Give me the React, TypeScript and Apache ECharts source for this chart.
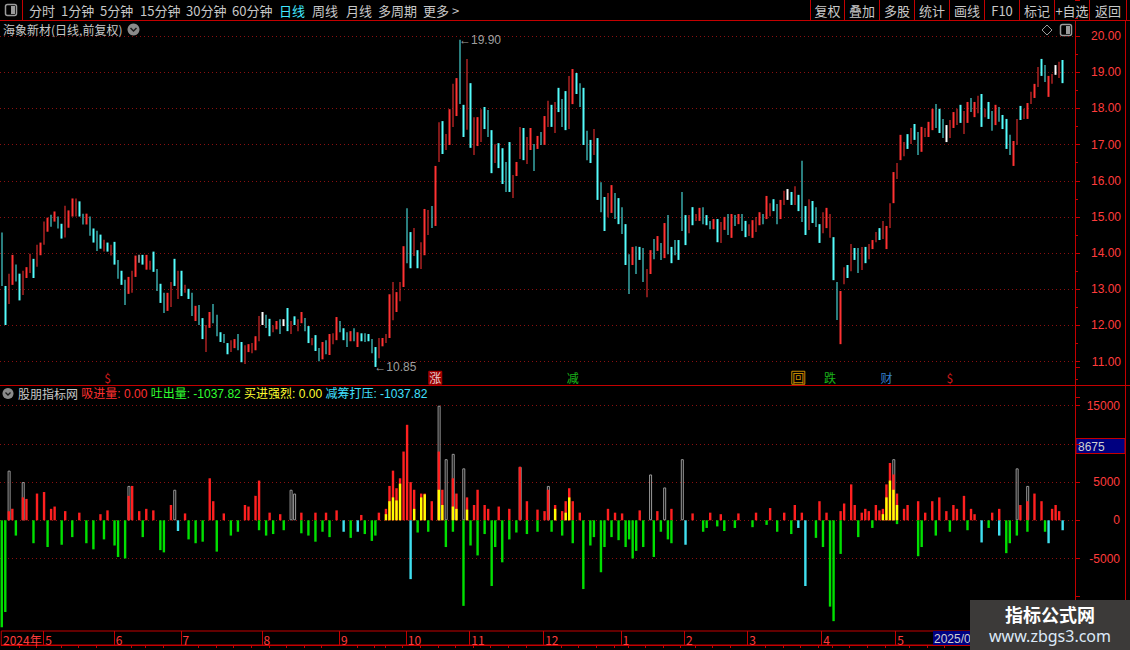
import React, { useEffect, useRef } from "react";
import * as echarts from "echarts";

// Daily bars from 2024-04-15 to 2025-07-11 (302 sessions); 3 empty slots at the right edge
const highs = [
  14.57, 13.09, 13.43, 13.95, 13.68, 13.43, 13.51, 13.61, 13.98, 13.84,
  14.23, 14.29, 14.87, 14.98, 15.06, 15.15, 15.01, 14.81, 15.31, 15.18,
  15.51, 15.51, 15.43, 15.09, 15.09, 15.01, 14.68, 14.62, 14.51, 14.37,
  14.29, 14.23, 14.31, 13.81, 13.51, 13.26, 13.34, 13.51, 13.93, 13.95,
  13.95, 13.95, 13.79, 14.04, 13.56, 13.15, 12.9, 12.9, 13.2, 13.84,
  13.51, 13.51, 13.12, 13.01, 12.9, 12.54, 12.56, 12.2, 12.01, 12.37,
  12.59, 12.29, 11.81, 11.76, 11.51, 11.59, 11.62, 11.76, 11.54, 11.45,
  11.48, 11.51, 11.7, 12.26, 12.37, 12.29, 12.18, 12.0, 12.12, 12.17,
  12.17, 12.48, 12.12, 12.25, 12.17, 12.37, 12.2, 11.98, 11.65, 11.73,
  11.37, 11.54, 11.59, 11.76, 11.78, 12.23, 12.12, 11.92, 11.81, 11.84,
  11.92, 11.81, 11.78, 11.78, 11.76, 11.62, 11.4, 11.65, 11.65, 11.76,
  12.86, 13.2, 12.92, 13.2, 14.19, 15.24, 14.58, 14.69, 14.08, 14.3,
  15.22, 15.19, 15.3, 16.41, 17.62, 17.65, 17.29, 17.98, 18.68, 18.84,
  19.9, 18.1, 19.37, 18.7, 17.76, 17.76, 17.98, 18.04, 17.96, 17.4,
  17.01, 17.04, 16.9, 16.52, 17.07, 16.16, 16.52, 17.49, 17.46, 17.21,
  17.46, 17.02, 17.24, 17.35, 17.79, 18.21, 18.1, 18.18, 18.57, 18.26,
  18.48, 18.9, 19.09, 18.98, 18.7, 18.57, 17.38, 17.13, 17.43, 17.18,
  15.96, 15.55, 15.66, 15.88, 15.66, 15.52, 15.27, 14.8, 13.97, 14.17,
  14.19, 14.17, 14.14, 13.56, 14.08, 14.39, 14.47, 14.28, 14.83, 15.05,
  14.17, 14.36, 14.36, 15.69, 15.05, 15.05, 15.27, 15.08, 15.25, 15.27,
  15.05, 14.89, 14.94, 14.94, 14.86, 15.0, 15.08, 15.08, 15.05, 15.08,
  15.08, 14.89, 14.8, 14.91, 15.0, 15.13, 15.08, 15.58, 15.38, 15.49,
  15.36, 15.47, 15.72, 15.77, 15.69, 15.85, 15.61, 16.55, 15.3, 15.49,
  15.44, 15.27, 14.8, 15.13, 15.25, 15.08, 14.44, 13.2, 12.95, 13.61,
  13.67, 14.25, 14.14, 14.14, 14.17, 14.17, 14.25, 14.36, 14.58, 14.69,
  14.89, 14.75, 15.38, 16.24, 16.49, 17.27, 17.07, 17.29, 17.46, 17.57,
  17.35, 17.49, 17.46, 17.63, 17.99, 18.12, 17.99, 17.71, 17.54, 17.68,
  17.9, 17.99, 18.1, 17.93, 18.18, 18.29, 18.18, 18.35, 18.4, 17.99,
  18.18, 17.93, 18.1, 18.04, 17.82, 17.71, 17.27, 17.1, 17.71, 18.07,
  17.99, 18.15, 18.46, 18.68, 19.15, 19.37, 19.2, 18.9, 18.95, 19.2,
  19.29, 19.34,
];

const lows = [
  13.09, 12.01, 12.59, 13.12, 13.21, 12.69, 12.84, 13.31, 13.45, 13.31,
  13.62, 13.94, 14.23, 14.59, 14.73, 14.87, 14.68, 14.4, 14.43, 14.7,
  15.01, 15.01, 15.01, 14.79, 14.79, 14.48, 14.29, 14.06, 14.12, 14.04,
  14.04, 13.93, 13.68, 13.29, 13.12, 12.56, 12.87, 12.9, 13.34, 13.73,
  13.68, 13.54, 13.54, 13.48, 12.95, 12.62, 12.34, 12.4, 12.51, 13.09,
  12.73, 12.81, 12.9, 12.73, 12.26, 12.12, 12.01, 11.62, 11.26, 11.93,
  12.06, 11.7, 11.54, 11.51, 11.2, 11.26, 11.37, 11.31, 10.98, 10.93,
  11.26, 11.23, 11.31, 11.56, 12.01, 11.93, 11.7, 11.81, 11.89, 11.76,
  11.98, 11.84, 11.76, 12.01, 11.84, 12.06, 11.84, 11.51, 11.45, 11.29,
  11.01, 11.06, 11.2, 11.18, 11.48, 11.59, 11.81, 11.59, 11.4, 11.56,
  11.56, 11.4, 11.56, 11.54, 11.56, 11.23, 10.85, 11.09, 11.42, 11.51,
  11.65, 12.14, 12.37, 12.67, 13.06, 13.72, 13.58, 13.92, 13.58, 13.56,
  13.94, 14.5, 14.69, 14.75, 16.52, 16.74, 16.85, 16.99, 17.49, 17.79,
  18.12, 17.21, 17.41, 16.91, 16.71, 16.96, 17.07, 17.43, 17.21, 16.21,
  16.49, 16.35, 15.91, 15.69, 15.69, 15.52, 16.13, 16.6, 16.57, 16.46,
  16.85, 16.27, 16.88, 16.99, 16.99, 17.49, 17.49, 17.32, 17.9, 17.49,
  17.4, 17.43, 18.12, 18.4, 18.04, 16.99, 16.57, 16.49, 16.71, 15.47,
  15.13, 14.61, 14.99, 15.11, 14.94, 14.8, 14.53, 13.67, 12.87, 13.67,
  13.42, 13.81, 13.2, 12.78, 13.42, 13.83, 14.06, 13.81, 13.86, 13.97,
  13.72, 13.94, 13.81, 14.61, 14.22, 14.55, 14.77, 14.89, 14.89, 14.8,
  14.77, 14.66, 14.66, 14.3, 14.28, 14.64, 14.5, 14.42, 14.75, 14.8,
  14.61, 14.44, 14.47, 14.42, 14.58, 14.77, 14.8, 14.94, 15.02, 15.16,
  14.8, 14.94, 15.33, 15.47, 15.33, 15.33, 15.16, 14.86, 14.5, 14.64,
  14.83, 14.72, 14.28, 14.55, 14.69, 14.42, 13.25, 12.15, 11.48, 13.14,
  13.31, 13.5, 13.81, 13.45, 13.53, 13.72, 13.83, 14.11, 14.3, 14.36,
  14.39, 14.11, 14.69, 15.38, 16.05, 16.57, 16.68, 16.88, 17.02, 17.13,
  16.71, 16.8, 17.21, 17.21, 17.4, 17.46, 17.32, 17.18, 17.07, 17.18,
  17.46, 17.54, 17.6, 17.29, 17.6, 17.9, 17.76, 17.87, 17.49, 17.76,
  17.71, 17.38, 17.54, 17.63, 17.43, 16.88, 16.71, 16.41, 16.99, 17.68,
  17.71, 17.71, 18.12, 18.29, 18.59, 18.9, 18.73, 18.32, 18.68, 18.93,
  18.84, 18.7,
];

// 1 = closed up (red), -1 = closed down (cyan), 0 = unchanged (white)
const moves = [
  -1, -1, 1, 1, -1, -1, 1, 1, 1, -1,
  1, 1, 1, 1, -1, 1, -1, -1, 1, 1,
  1, 1, -1, -1, 1, -1, -1, -1, -1, 1,
  -1, 1, -1, -1, -1, -1, 1, 1, 1, 0,
  -1, 1, 1, -1, -1, -1, -1, 1, 1, -1,
  1, -1, 1, -1, -1, 1, -1, -1, 1, 1,
  -1, -1, -1, -1, -1, 1, 1, -1, -1, 1,
  1, 1, 1, 1, 0, -1, -1, 1, 1, -1,
  0, -1, 1, -1, 1, 1, -1, -1, 1, -1,
  -1, 1, -1, 1, 1, 1, -1, -1, -1, 1,
  -1, 1, -1, -1, -1, -1, -1, 1, 1, 1,
  1, 1, 1, 1, 1, -1, -1, 1, -1, 1,
  1, 1, -1, 1, 1, -1, 1, 1, 1, 1,
  -1, -1, 1, -1, 1, 1, 1, -1, -1, -1,
  1, -1, -1, -1, -1, 1, 1, 1, -1, 1,
  1, -1, 1, -1, 1, 1, -1, 1, -1, -1,
  -1, 1, 1, -1, -1, -1, -1, -1, 1, -1,
  -1, -1, 1, 1, -1, -1, -1, -1, -1, 1,
  -1, -1, -1, 1, 1, -1, 1, -1, 1, -1,
  -1, -1, -1, -1, -1, 1, -1, 1, 1, -1,
  -1, -1, 1, -1, 1, 1, -1, 1, -1, 1,
  -1, -1, 1, 1, 1, 1, -1, 1, 1, -1,
  -1, 1, 1, 0, -1, 1, -1, -1, -1, 1,
  -1, -1, -1, 1, 1, 1, -1, -1, 1, 1,
  -1, 1, -1, -1, 1, -1, 1, 1, 1, -1,
  1, 1, 1, 1, 1, 1, 1, -1, 1, -1,
  -1, 1, 1, 1, 1, -1, -1, -1, 0, 1,
  1, 1, -1, 1, 1, -1, 1, 1, -1, 1,
  -1, -1, 1, -1, -1, -1, -1, 1, 1, -1,
  1, 1, 1, 1, 1, -1, -1, 1, 1, 0,
  1, -1,
];

// Trading calendar: weekdays from the first session minus exchange holidays
const FIRST_DAY = "2024-04-15";
const SLOT_COUNT = 305;
const holidays = [
  "2024-05-01", "2024-05-02", "2024-05-03", "2024-06-10", "2024-09-16", "2024-09-17",
  "2024-10-01", "2024-10-02", "2024-10-03", "2024-10-04", "2024-10-07",
  "2025-01-01", "2025-01-28", "2025-01-29", "2025-01-30", "2025-01-31", "2025-02-03", "2025-02-04",
  "2025-04-04", "2025-05-01", "2025-05-02", "2025-05-05", "2025-06-02",
];
// Month labels stop where the cursor date box begins
const LAST_LABELED_SESSION = 269;
const CURSOR_DATE_TEXT = "2025/0";

// Indicator columns as [session index, value] pairs
const absorbVol = [
  [2, 1200], [3, 1500], [6, 3000], [7, 2800], [10, 3500], [12, 3700], [14, 1500], [15, 1800], [18, 1200],
  [22, 1000], [28, 800], [30, 1300], [36, 3200], [37, 4500], [39, 1200], [41, 1500], [43, 1300], [48, 2000],
  [52, 900], [59, 5500], [60, 2500], [63, 900], [69, 2000], [70, 1800], [72, 3200], [73, 5200], [76, 1000],
  [79, 800], [85, 1000], [89, 1000], [92, 1000], [95, 1300], [102, 700], [107, 1000], [109, 1500], [110, 4500],
  [111, 6500], [112, 4200], [113, 5500], [114, 9000], [115, 12500], [116, 5000], [117, 4000], [119, 3500],
  [120, 3500], [122, 2500], [124, 9000], [125, 4000], [128, 5500], [129, 3500], [132, 3000], [134, 2000],
  [135, 4000], [137, 2000], [138, 1500], [141, 1800], [144, 1500], [147, 7000], [149, 2500], [152, 1400],
  [154, 1200], [155, 4000], [157, 2000], [159, 1200], [160, 2500], [161, 4200], [162, 2500], [164, 1000],
  [172, 1500], [174, 1000], [176, 900], [181, 1300], [186, 1200], [190, 1500], [196, 900], [201, 1000],
  [204, 800], [209, 900], [214, 1000], [218, 1600], [222, 1000], [225, 2000], [227, 1000], [232, 2500],
  [234, 1000], [238, 1200], [239, 2200], [241, 4700], [242, 2000], [244, 1000], [245, 1500], [246, 1200],
  [248, 2000], [249, 1300], [250, 1500], [251, 4700], [252, 7500], [253, 6000], [254, 3500], [256, 1500],
  [257, 2000], [260, 2500], [262, 1000], [264, 2500], [266, 3000], [268, 1200], [270, 2000], [271, 1500],
  [273, 3200], [275, 1500], [276, 800], [281, 1000], [283, 1500], [289, 2000], [291, 2500], [293, 3500],
  [295, 2500], [298, 1500], [299, 2000], [300, 1200],
];
const strongBuy = [
  [109, 800], [110, 2500], [111, 3000], [112, 2600], [113, 4800], [117, 1500], [119, 3000], [120, 3400],
  [124, 4000], [125, 2000], [128, 1800], [129, 1500], [132, 1400], [157, 1500], [160, 1000], [161, 3000],
  [250, 800], [251, 3000], [252, 5200], [253, 4000], [254, 2000],
];
const turnoverOutline = [
  [2, 6500], [6, 5000], [36, 4500], [49, 4000], [82, 4000], [83, 3500], [124, 15000], [126, 8000],
  [128, 8700], [131, 6800], [147, 7000], [155, 4500], [184, 6000], [188, 4300], [193, 8000], [253, 8000],
  [288, 6800], [291, 4500],
];
const releaseVol = [
  [0, -14000], [1, -12000], [4, -2000], [9, -3000], [13, -3500], [17, -3200], [20, -2200], [24, -3000],
  [26, -3800], [29, -2500], [32, -3300], [33, -4800], [35, -5000], [40, -2200], [45, -3900], [46, -4200],
  [53, -2500], [55, -3000], [57, -2800], [61, -4100], [65, -2000], [67, -1500], [73, -1300], [75, -2000],
  [77, -1800], [80, -1300], [85, -1700], [87, -2000], [89, -2800], [91, -1500], [93, -2200], [99, -2300],
  [103, -1800], [105, -2700], [106, -2000], [118, -1600], [121, -1500], [126, -3500], [128, -1500],
  [131, -11200], [133, -3300], [135, -4600], [137, -1800], [139, -8600], [140, -3500], [142, -5500],
  [144, -2500], [146, -1600], [149, -1800], [152, -1500], [156, -1500], [159, -2000], [162, -3000],
  [165, -9000], [167, -3300], [168, -2200], [170, -6800], [171, -3500], [173, -2200], [175, -2600],
  [177, -3500], [178, -2500], [179, -5000], [180, -4000], [182, -3500], [185, -4800], [187, -1500],
  [189, -2500], [190, -3000], [199, -1500], [200, -1000], [203, -800], [205, -1400], [208, -1000],
  [213, -900], [217, -600], [220, -1500], [224, -1800], [231, -2300], [233, -3500], [235, -11300],
  [236, -13200], [238, -4400], [243, -2200], [247, -1000], [254, -500], [260, -4700], [261, -3500],
  [265, -2000], [269, -1500], [274, -1300], [280, -1000], [285, -4300], [286, -3000], [288, -2000],
  [291, -1500], [296, -1500],
];
const pressDown = [
  [50, -1400], [97, -1500], [101, -1500], [116, -7700], [194, -3200], [226, -1000], [228, -8600],
  [278, -2900], [283, -2000], [297, -3000], [301, -1300],
];

// Signal tags under the price panel
const signalIdx = [30, 123, 162, 226, 235, 251, 269];
const signalText = ["$", "涨", "减", "回", "跌", "财", "$"];
const signalKind = ["dollar", "rise", "cut", "back", "fall", "cash", "dollar"];

const UP = "#ff3232";
const DOWN = "#54fcfc";
const LINE_RED = "#c40000";
const AXIS_TEXT = "#ff3c3c";
const GRID_DOT = "#8a1010";
const UI_TEXT = "#c8c8c8";
const NUM_FONT = '"Liberation Sans", "Noto Sans CJK SC", sans-serif';
const CJK_FONT = '"Noto Sans CJK SC", "Liberation Sans", sans-serif';

const toolbarLeft = ["分时", "1分钟", "5分钟", "15分钟", "30分钟", "60分钟", "日线", "周线", "月线", "多周期", "更多 >"];
const toolbarLeftX = [29, 61, 100, 140, 186, 232, 279, 312, 346, 378, 423];
const toolbarRight = ["复权", "叠加", "多股", "统计", "画线", "F10", "标记", "+自选", "返回"];
const toolbarRightSep = [810, 844, 879, 914, 949, 984, 1019, 1054, 1089, 1126];

function buildSessions(): Date[] {
  const out: Date[] = [];
  const off = new Set(holidays);
  const d = new Date(FIRST_DAY + "T00:00:00Z");
  while (out.length < SLOT_COUNT) {
    const key = d.toISOString().slice(0, 10);
    const wd = d.getUTCDay();
    if (wd !== 0 && wd !== 6 && !off.has(key)) out.push(new Date(d.getTime()));
    d.setUTCDate(d.getUTCDate() + 1);
  }
  return out;
}

function expand(pairs: number[][]): (number | string)[] {
  const arr: (number | string)[] = Array.from({ length: SLOT_COUNT }, () => "-");
  pairs.forEach(([i, v]) => (arr[i] = v));
  return arr;
}

function buildOption() {
  const sessions = buildSessions();
  const categories = sessions.map((d) => d.toISOString().slice(0, 10));
  const isMonthStart = (i: number) => i > 0 && sessions[i].getUTCMonth() !== sessions[i - 1].getUTCMonth();
  const isWeekStart = (i: number) =>
    i > 0 && (sessions[i].getUTCDay() < sessions[i - 1].getUTCDay() ||
      sessions[i].getTime() - sessions[i - 1].getTime() > 6 * 86400000);
  const monthLabel = (i: number) =>
    i === 0 ? `${sessions[0].getUTCFullYear()}年` : String(sessions[i].getUTCMonth() + 1);

  const candleData = highs.map((h, i) => {
    const l = lows[i];
    const m = moves[i];
    const value = m >= 0 ? [l, h, l, h] : [h, l, l, h];
    if (m === 0) {
      return { value, itemStyle: { color: "#ffffff", borderColor: "#ffffff" } };
    }
    return value;
  });

  const signalStyle: Record<string, any> = {
    dollar: { color: "transparent", text: "#ff2020", border: "transparent" },
    rise: { color: "#c00000", text: "#ffffff", border: "#c00000" },
    cut: { color: "transparent", text: "#20e020", border: "transparent" },
    back: { color: "#000000", text: "#ffb000", border: "#ffb000" },
    fall: { color: "transparent", text: "#20e020", border: "transparent" },
    cash: { color: "transparent", text: "#40a0ff", border: "transparent" },
  };
  const signalData = signalIdx.map((idx, k) => {
    const s = signalStyle[signalKind[k]];
    return {
      value: [idx, 10.55],
      itemStyle: { color: s.color, borderColor: s.border, borderWidth: 1 },
      label: {
        show: true,
        position: "inside",
        formatter: signalText[k],
        color: s.text,
        fontSize: 12,
        fontFamily: CJK_FONT,
      },
    };
  });

  const priceSplitColors = Array.from({ length: 12 }, (_, i) =>
    i === 0 || i === 11 ? "rgba(0,0,0,0)" : GRID_DOT
  );
  const volSplitColors = [
    "rgba(0,0,0,0)", "rgba(0,0,0,0)", GRID_DOT, GRID_DOT, GRID_DOT, GRID_DOT, GRID_DOT, "rgba(0,0,0,0)",
  ];

  const hiddenX = (gridIndex: number) => ({
    type: "category",
    gridIndex,
    data: categories,
    boundaryGap: true,
    axisLine: { show: false },
    axisTick: { show: false },
    axisLabel: { show: false },
    splitLine: { show: false },
  });

  const graphic: any[] = [];
  // top toolbar
  graphic.push({ type: "line", shape: { x1: 0, y1: 20.5, x2: 1130, y2: 20.5 }, style: { stroke: LINE_RED, lineWidth: 1 } });
  graphic.push({ type: "line", shape: { x1: 22.5, y1: 0, x2: 22.5, y2: 20 }, style: { stroke: LINE_RED, lineWidth: 1 } });
  graphic.push({ type: "rect", shape: { x: 5.5, y: 4.5, width: 11, height: 11, r: 2 }, style: { fill: "none", stroke: "#9a9a9a", lineWidth: 1.5 } });
  graphic.push({ type: "rect", shape: { x: 11, y: 6, width: 4, height: 8 }, style: { fill: "#9a9a9a" } });
  toolbarLeft.forEach((t, i) => {
    graphic.push({
      type: "text", x: toolbarLeftX[i], y: 10,
      style: { text: t, fill: i === 6 ? "#40e8ff" : UI_TEXT, font: `13px ${CJK_FONT}`, verticalAlign: "middle" },
    });
  });
  toolbarRightSep.forEach((x) => {
    graphic.push({ type: "line", shape: { x1: x + 0.5, y1: 0, x2: x + 0.5, y2: 20 }, style: { stroke: LINE_RED, lineWidth: 1 } });
  });
  toolbarRight.forEach((t, i) => {
    graphic.push({
      type: "text", x: (toolbarRightSep[i] + toolbarRightSep[i + 1]) / 2 + 0.5, y: 10,
      style: { text: t, fill: UI_TEXT, font: `13px ${CJK_FONT}`, align: "center", verticalAlign: "middle" },
    });
  });

  // stock title row
  graphic.push({
    type: "text", x: 3, y: 29,
    style: { text: "海象新材(日线,前复权)", fill: UI_TEXT, font: `12px ${CJK_FONT}`, verticalAlign: "middle" },
  });
  graphic.push({ type: "circle", shape: { cx: 133.5, cy: 29.5, r: 6 }, style: { fill: "#8a8a8a" } });
  graphic.push({ type: "polyline", shape: { points: [[130.5, 28], [133.5, 31], [136.5, 28]] }, style: { stroke: "#1a1a1a", lineWidth: 1.5, fill: "none" } });
  graphic.push({ type: "polygon", shape: { points: [[1047, 25], [1052, 30], [1047, 35], [1042, 30]] }, style: { fill: "none", stroke: "#9a9a9a", lineWidth: 1 } });
  graphic.push({ type: "rect", shape: { x: 1060.5, y: 24.5, width: 11, height: 11, r: 2 }, style: { fill: "none", stroke: "#9a9a9a", lineWidth: 1.5 } });
  graphic.push({ type: "rect", shape: { x: 1066, y: 26, width: 4, height: 8 }, style: { fill: "#9a9a9a" } });

  // right frame lines
  graphic.push({ type: "line", shape: { x1: 1075.5, y1: 20, x2: 1075.5, y2: 646 }, style: { stroke: LINE_RED, lineWidth: 1 } });
  graphic.push({ type: "line", shape: { x1: 1125.5, y1: 20, x2: 1125.5, y2: 650 }, style: { stroke: LINE_RED, lineWidth: 1 } });

  // panel separator
  graphic.push({ type: "line", shape: { x1: 0, y1: 385.5, x2: 1130, y2: 385.5 }, style: { stroke: LINE_RED, lineWidth: 1 } });

  // indicator title
  graphic.push({ type: "circle", shape: { cx: 8, cy: 393.5, r: 5.5 }, style: { fill: "#8a8a8a" } });
  graphic.push({ type: "polyline", shape: { points: [[5.5, 392.5], [8, 395], [10.5, 392.5]] }, style: { stroke: "#1a1a1a", lineWidth: 1.3, fill: "none" } });
  graphic.push({
    type: "text", x: 18, y: 393.5,
    style: {
      text: "{a|股朋指标网} {b|吸进量: 0.00} {c|吐出量: -1037.82} {d|买进强烈: 0.00} {e|减筹打压: -1037.82}",
      verticalAlign: "middle",
      font: `12px ${NUM_FONT}`,
      rich: {
        a: { fill: UI_TEXT, font: `12px ${CJK_FONT}` },
        b: { fill: "#ff3030", font: `12px ${NUM_FONT}` },
        c: { fill: "#30ff30", font: `12px ${NUM_FONT}` },
        d: { fill: "#ffff30", font: `12px ${NUM_FONT}` },
        e: { fill: "#40e0ff", font: `12px ${NUM_FONT}` },
      },
    },
  });

  // readout box on the indicator axis
  graphic.push({ type: "rect", shape: { x: 1076, y: 438.5, width: 49, height: 15 }, style: { fill: "#000080", stroke: LINE_RED, lineWidth: 1 } });
  graphic.push({ type: "text", x: 1078, y: 446.5, style: { text: "8675", fill: "#d0d0d0", font: `12px ${NUM_FONT}`, verticalAlign: "middle" } });

  // cursor date box
  graphic.push({ type: "rect", shape: { x: 933, y: 631, width: 37, height: 14 }, style: { fill: "#000080" }, z: 50 });
  graphic.push({ type: "text", x: 934, y: 638.5, style: { text: CURSOR_DATE_TEXT, fill: "#d0d0d0", font: `12px ${NUM_FONT}`, verticalAlign: "middle" }, z: 51 });

  // site mark
  graphic.push({ type: "rect", shape: { x: 970, y: 600, width: 160, height: 50 }, style: { fill: "#3c3a39" }, z: 100 });
  graphic.push({ type: "text", x: 1050, y: 614, style: { text: "指标公式网", fill: "#ffffff", font: `bold 18px ${CJK_FONT}`, align: "center", verticalAlign: "middle" }, z: 101 });
  graphic.push({ type: "text", x: 1050, y: 636, style: { text: "www.zbgs3.com", fill: "#dce9f7", font: `16px "Noto Sans", sans-serif`, align: "center", verticalAlign: "middle" }, z: 101 });

  const volBar = (name: string, pairs: number[][], color: string, z: number, hollow = false) => ({
    type: "bar",
    name,
    xAxisIndex: 1,
    yAxisIndex: 1,
    data: expand(pairs),
    barWidth: hollow ? 3 : 2.4,
    barGap: "-100%",
    z,
    itemStyle: hollow
      ? { color: "rgba(0,0,0,0)", borderColor: "#9a9a9a", borderWidth: 1 }
      : { color },
  });

  return {
    animation: false,
    backgroundColor: "#000000",
    grid: [
      { left: 0, width: 1075, top: 0, height: 397.65 },
      { left: 0, width: 1075, top: 367.5, height: 267.4 },
      { left: 0, width: 1075, top: 631, height: 14, show: true, borderColor: LINE_RED, borderWidth: 1, backgroundColor: "transparent" },
    ],
    xAxis: [
      hiddenX(0),
      hiddenX(1),
      {
        type: "category",
        gridIndex: 2,
        data: categories,
        boundaryGap: true,
        position: "top",
        axisLine: { show: true, lineStyle: { color: LINE_RED } },
        axisTick: {
          show: true,
          inside: true,
          length: 3,
          interval: (idx: number) => isWeekStart(idx) && !isMonthStart(idx),
          lineStyle: { color: LINE_RED },
        },
        axisLabel: {
          show: true,
          inside: true,
          interval: (idx: number) => idx === 0 || (isMonthStart(idx) && idx < LAST_LABELED_SESSION),
          formatter: (_v: string, idx: number) => monthLabel(idx),
          align: "left",
          verticalAlign: "top",
          margin: 2,
          color: AXIS_TEXT,
          fontSize: 12,
          fontFamily: CJK_FONT,
        },
        splitLine: {
          show: true,
          interval: (idx: number) => isMonthStart(idx),
          lineStyle: { color: LINE_RED, width: 1 },
        },
      },
    ],
    yAxis: [
      {
        type: "value",
        gridIndex: 0,
        position: "right",
        min: 10,
        max: 21,
        interval: 1,
        axisLine: { show: false },
        axisTick: { show: true, length: 5, lineStyle: { color: LINE_RED } },
        minorTick: { show: true, splitNumber: 2, length: 3, lineStyle: { color: LINE_RED } },
        axisLabel: {
          formatter: (v: number) => (v < 11 || v > 20 ? "" : v.toFixed(2)),
          color: AXIS_TEXT,
          fontSize: 12,
          fontFamily: NUM_FONT,
          align: "right",
          margin: 46,
        },
        splitLine: { show: true, lineStyle: { color: priceSplitColors, type: [1, 3], width: 1 } },
      },
      {
        type: "value",
        gridIndex: 1,
        position: "right",
        min: -15000,
        max: 20000,
        interval: 5000,
        axisLine: { show: false },
        axisTick: { show: true, length: 5, lineStyle: { color: LINE_RED } },
        axisLabel: {
          formatter: (v: number) => ([15000, 5000, 0, -5000].includes(v) ? String(v) : ""),
          color: AXIS_TEXT,
          fontSize: 12,
          fontFamily: NUM_FONT,
          align: "right",
          margin: 45,
        },
        splitLine: { show: true, lineStyle: { color: volSplitColors, type: [1, 3], width: 1 } },
      },
      {
        type: "value",
        gridIndex: 2,
        show: false,
      },
    ],
    series: [
      {
        type: "candlestick",
        xAxisIndex: 0,
        yAxisIndex: 0,
        data: candleData,
        barWidth: 2,
        itemStyle: { color: UP, color0: DOWN, borderColor: UP, borderColor0: DOWN, borderWidth: 0 },
      },
      {
        type: "scatter",
        xAxisIndex: 0,
        yAxisIndex: 0,
        symbol: "rect",
        symbolSize: [13, 13],
        data: signalData,
        z: 5,
      },
      {
        type: "scatter",
        xAxisIndex: 0,
        yAxisIndex: 0,
        symbolSize: 0,
        data: [
          { value: [130, 19.9], label: { formatter: "←19.90", position: "right", offset: [-6, 0] } },
          { value: [106, 10.85], label: { formatter: "←10.85", position: "right", offset: [-6, 0] } },
        ],
        label: { show: true, color: "#c8c8c8", fontSize: 12, fontFamily: NUM_FONT },
        z: 5,
      },
      volBar("总量", turnoverOutline, "#9a9a9a", 2, true),
      volBar("吸进量", absorbVol, "#ff2020", 3),
      volBar("买进强烈", strongBuy, "#ffff00", 4),
      volBar("吐出量", releaseVol, "#00e000", 3),
      volBar("减筹打压", pressDown, "#40e0f0", 4),
    ],
    graphic,
  };
}

export default function App() {
  const ref = useRef<HTMLDivElement>(null);
  useEffect(() => {
    if (!ref.current) return;
    const chart = echarts.init(ref.current, undefined, { renderer: "svg" });
    chart.setOption(buildOption() as any);
    return () => chart.dispose();
  }, []);
  return (
    <div
      ref={ref}
      style={{ position: "fixed", left: 0, top: 0, width: 1130, height: 650, background: "#000" }}
    />
  );
}
